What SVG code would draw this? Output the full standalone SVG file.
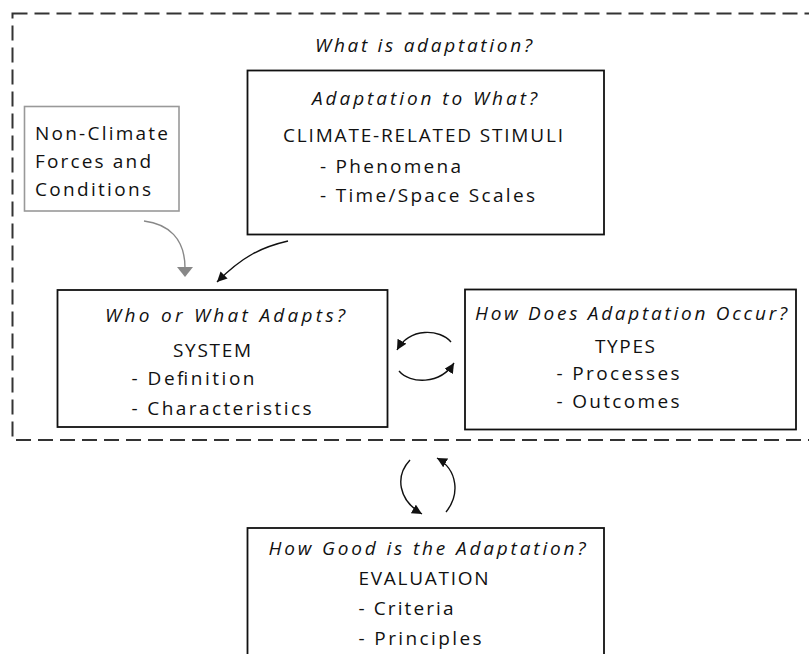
<svg xmlns="http://www.w3.org/2000/svg" width="809" height="654" viewBox="0 0 809 654">
<defs>
<style>
text{font-family:"Open Sans","DejaVu Sans",sans-serif;font-size:19px;fill:#111}
.it{font-style:italic}
.box{fill:#fff;stroke:#111;stroke-width:1.8}
.gbox{fill:#fff;stroke:#999;stroke-width:1.6}
.frame{fill:none;stroke:#333;stroke-width:2;stroke-dasharray:15 7}
.con{fill:none;stroke:#111;stroke-width:1.4}
.gcon{fill:none;stroke:#888;stroke-width:1.4}
</style>
<marker id="ah" markerUnits="userSpaceOnUse" markerWidth="12" markerHeight="12" refX="10" refY="5" orient="auto">
<path d="M0,0 L10,5 L0,10 Z" fill="#111"/>
</marker>
</defs>
<rect width="809" height="654" fill="#fff"/>
<g id="frame">
<rect class="frame" x="12.5" y="13.5" width="830" height="426.5"/>
<text class="it" x="315" y="52" textLength="217" lengthAdjust="spacing">What is adaptation?</text>
</g>
<g id="nonclimate">
<rect class="gbox" x="24.5" y="106.5" width="154.5" height="104.5"/>
<text x="35" y="140" textLength="133" lengthAdjust="spacing">Non-Climate</text>
<text x="35" y="168" textLength="116" lengthAdjust="spacing">Forces and</text>
<text x="35" y="196" textLength="116" lengthAdjust="spacing">Conditions</text>
</g>
<g id="stimuli">
<rect class="box" x="247.5" y="70.5" width="356.5" height="164"/>
<text class="it" x="312" y="105" textLength="225" lengthAdjust="spacing">Adaptation to What?</text>
<text x="283" y="141.5" textLength="280" lengthAdjust="spacing">CLIMATE-RELATED STIMULI</text>
<text x="320" y="173" textLength="141" lengthAdjust="spacing">- Phenomena</text>
<text x="320" y="201.5" textLength="215" lengthAdjust="spacing">- Time/Space Scales</text>
</g>
<g id="system">
<rect class="box" x="57.5" y="290" width="330" height="137"/>
<text class="it" x="105" y="321.5" textLength="240" lengthAdjust="spacing">Who or What Adapts?</text>
<text x="173" y="356.5" textLength="78" lengthAdjust="spacing">SYSTEM</text>
<text x="131.5" y="385" textLength="123" lengthAdjust="spacing">- Definition</text>
<text x="131.5" y="415" textLength="180" lengthAdjust="spacing">- Characteristics</text>
</g>
<g id="types">
<rect class="box" x="465" y="289.5" width="331" height="140"/>
<text class="it" x="475" y="320" textLength="312" lengthAdjust="spacing">How Does Adaptation Occur?</text>
<text x="595" y="353" textLength="60" lengthAdjust="spacing">TYPES</text>
<text x="556.5" y="380" textLength="123" lengthAdjust="spacing">- Processes</text>
<text x="556.5" y="408" textLength="123" lengthAdjust="spacing">- Outcomes</text>
</g>
<g id="evaluation">
<rect class="box" x="247.5" y="528" width="356.5" height="140"/>
<text class="it" x="268.5" y="555" textLength="317" lengthAdjust="spacing">How Good is the Adaptation?</text>
<text x="358.5" y="585" textLength="130" lengthAdjust="spacing">EVALUATION</text>
<text x="358.5" y="615" textLength="95" lengthAdjust="spacing">- Criteria</text>
<text x="358.5" y="645" textLength="123" lengthAdjust="spacing">- Principles</text>
</g>
<g id="connectors">
<path class="gcon" d="M144,221 C168,224 185,238 185,268"/>
<path d="M177,267 L193,267 L185,277 Z" fill="#888"/>
<path class="con" d="M288,241 C262,247 243,256 217,282" marker-end="url(#ah)"/>
<path class="con" d="M451,342 C440,329 410,327 397,350" marker-end="url(#ah)"/>
<path class="con" d="M399,371 C410,384 440,385 454,363" marker-end="url(#ah)"/>
<path class="con" d="M410,460 C395,476 398,500 422,514" marker-end="url(#ah)"/>
<path class="con" d="M446,512 C460,495 458,470 437,458" marker-end="url(#ah)"/>
</g>
</svg>
